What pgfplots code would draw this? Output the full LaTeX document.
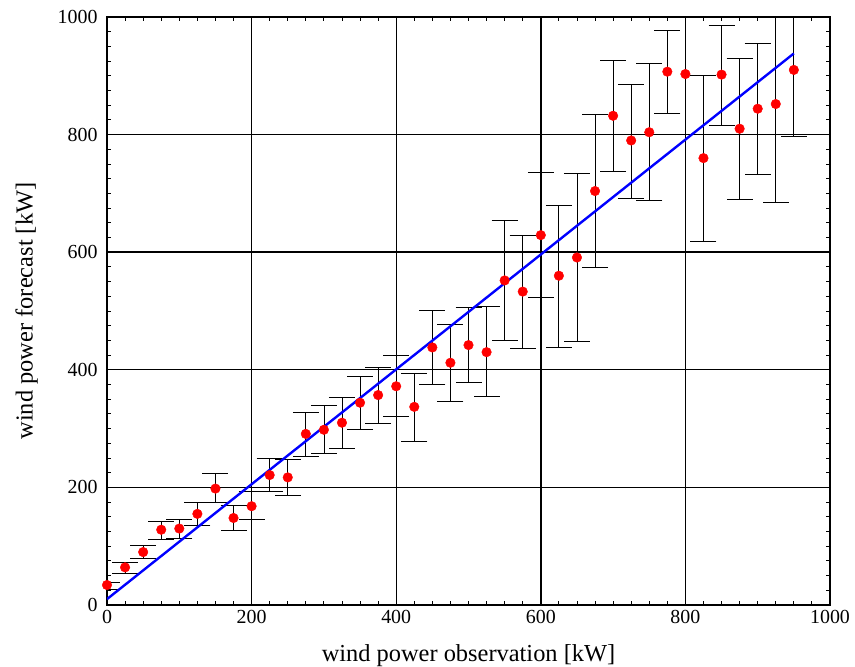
\documentclass[border=0pt]{standalone}
\usepackage{pgfplots}
\pgfplotsset{compat=1.18}
\usepackage{pgfplotstable}
\usepackage{fontspec}
\setmainfont{Liberation Serif}

% x = observation, y = forecast, lo/hi = error bar ends
\pgfplotstableread{
x   y    lo   hi
0   34   27   38
25  64   54   73
50  90   79   102
75  128  112  143
100 130  113  146
125 155  135  175
150 198  174  223
175 148  127  170
200 168  145  193
225 221  194  249
250 217  187  247
275 291  253  327
300 298  257  340
325 310  266  353
350 344  299  388
375 357  309  404
400 372  320  425
425 337  279  394
450 438  376  501
475 412  346  477
500 442  378  506
525 430  354  507
550 552  450  654
575 533  437  629
600 629  523  735
625 560  438  679
650 591  448  734
675 704  574  834
700 832  737  927
725 790  692  886
750 804  688  921
775 907  836  978
800 903  -20  1040
825 760  618  900
850 902  816  986
875 810  690  930
900 844  732  955
925 852  685  1040
950 910  797  1040
}\fcdata

\begin{document}
\begin{tikzpicture}
\begin{axis}[
    name=main,
    scale only axis,
    width=723bp, height=588bp,
    xmin=0, xmax=1000, ymin=0, ymax=1000,
    xtick={0,200,...,1000}, ytick={0,200,...,1000},
    minor tick num=7,
    tick align=inside,
    major tick length=7bp, minor tick length=4bp,
    grid=major,
    major grid style={black, line width=1.4pt},
    axis line style={line width=1.4pt},
    every tick/.style={black, line width=0.9pt},
    xlabel={wind power observation [kW]},
    ylabel={wind power forecast [kW]},
    tick label style={font=\fontsize{20}{22}\selectfont},
    label style={font=\fontsize{24.5}{26}\selectfont},
    yticklabel style={xshift=-6bp},
    xticklabel style={yshift=-2bp},
    /pgf/number format/assume math mode=true,
    /pgf/number format/1000 sep={},
    xlabel shift=14bp,
    ylabel shift=13bp,
]
\addplot[only marks, mark=*, mark size=4.8bp, color=red,
    error bars/.cd, y dir=both, y explicit,
    error bar style={black, line width=0.8pt},
    error mark options={black, rotate=90, mark size=13bp, line width=0.8pt}]
    table[x=x, y=y, y error plus expr=\thisrow{hi}-\thisrow{y},
          y error minus expr=\thisrow{y}-\thisrow{lo}] {\fcdata};
\addplot[blue, line width=2.4pt] coordinates {(0,10) (950,938)};
\end{axis}
\pgfresetboundingbox
\useasboundingbox ([xshift=-107bp,yshift=-62bp]main.south west)
    rectangle ([xshift=25bp,yshift=17bp]main.north east);
\end{tikzpicture}
\end{document}
